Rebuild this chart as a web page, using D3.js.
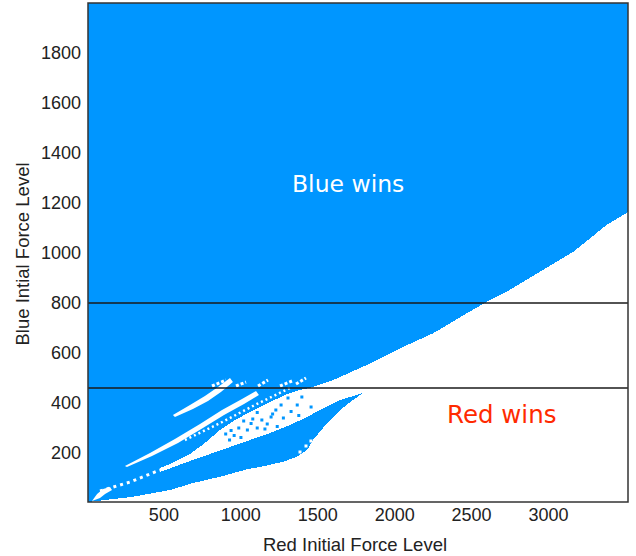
<!DOCTYPE html>
<html>
<head>
<meta charset="utf-8">
<script src="https://cdn.jsdelivr.net/npm/d3@7"></script>
<style>
  html, body { margin: 0; padding: 0; background: #fff; }
  svg { display: block; }
  .tick text { font-family: "Liberation Sans", Arial, sans-serif; font-size: 18px; fill: #222; }
</style>
</head>
<body>
<svg id="chart" width="636" height="556"></svg>
<script>
// Outcome map of a two-sided engagement: [red force, blue force] pairs.
const redTicks = [500, 1000, 1500, 2000, 2500, 3000];
const blueTicks = [200, 400, 600, 800, 1000, 1200, 1400, 1600, 1800];
const referenceLevels = [800, 460];

// Upper edge of the red-wins region, from the right edge down to the lower reference level
const redWinsEdge = [[3520,1164],[3381,1112],[3164,1005],[2948,925],[2732,845],[2623,812],
  [2472,759],[2254,679],[2038,619],[1822,552],[1604,492],[1473,464]];
// Upper edge of the red-wins wedge reaching into the low-force corner
const wedgeTop = [[1388,452],[1290,432],[1180,400],[1063,364],[966,332],[868,292],[770,240],
  [673,196],[543,156],[478,140]];
// Lower edge of that wedge (top of the blue tongue)
const wedgeBottom = [[478,124],[673,168],[803,196],[933,224],[1063,252],[1193,280],[1323,312],
  [1420,340],[1518,372],[1648,412],[1798,440]];
// Bottom edge of the blue region, from the tongue tip back to the origin
const lowerEdge = [[1733,412],[1648,372],[1564,320],[1473,252],[1434,212],[1369,185],[1278,165],
  [1128,144],[1044,135],[868,105],[693,80],[543,52],[303,25],[23,5]];

// Narrow red-wins streaks inside the blue region
const streakUpper = [[562,352],[673,392],[770,428],[855,464],[933,500],[952,484],[874,444],
  [790,408],[692,376],[575,344]];
const streakMiddle = [[250,148],[413,200],[575,256],[738,316],[881,372],[1011,416],[1102,448],
  [1121,432],[1024,396],[894,352],[757,300],[595,240],[426,188],[263,144]];
const streakTail = [[88,48],[283,84],[478,132]];
const meshLine = [[640,252],[870,320],[1095,392],[1323,460]];
const originPatch = [[36,8],[69,36],[108,56],[153,64],[166,52],[121,36],[88,20]];
const flecks = [[[816,468],[907,492]],[[972,468],[1037,484]],[[1115,468],[1180,492]],
  [[1258,468],[1336,488]],[[1362,476],[1427,500]]];
// Blue-wins cells scattered inside the wedge
const blueCells = [[905,276],[940,290],[990,300],[1022,328],[1081,336],[1110,362],[930,252],
  [1004,262],[1046,292],[1110,300],[1140,332],[1200,344],[1231,372],[1160,296],[1240,306],
  [1280,340],[1330,366],[1265,392],[1370,392],[1400,424],[1310,420],[1460,384],[1380,350],
  [960,270],[1070,318],[1175,316],[1210,356]];
// Red-wins cells along the tongue's lower edge
const redCells = [[1388,204],[1427,228],[1459,248]];

const svg = d3.select("#chart");
const x = d3.scaleLinear().domain([10, 3520]).range([88, 628]);
const y = d3.scaleLinear().domain([4, 2000]).range([502, 3]);
const [x0, x1] = x.domain();
const [y0, y1] = y.domain();

const BLUE = "#0096ff";
const line = d3.line().x(d => x(d[0])).y(d => y(d[1]));

const plot = svg.append("g");
plot.append("rect")
  .attr("x", x(x0)).attr("y", y(y1))
  .attr("width", x(x1) - x(x0)).attr("height", y(y0) - y(y1))
  .attr("fill", BLUE);

// Red-wins region: one simple polygon that leaves the blue tongue uncovered
const redRegion = [].concat(redWinsEdge, wedgeTop, wedgeBottom, lowerEdge,
  [[x0, y0], [x1, y0]]);
plot.append("path").attr("d", line(redRegion) + "Z").attr("fill", "#fff")
  .attr("shape-rendering", "crispEdges");

[streakUpper, streakMiddle, originPatch].forEach(poly => {
  plot.append("path").attr("d", line(poly) + "Z").attr("fill", "#fff");
});
plot.append("path").attr("d", line(streakTail)).attr("fill", "none")
  .attr("stroke", "#fff").attr("stroke-width", 3).attr("stroke-dasharray", "3,4");
plot.append("path").attr("d", line(meshLine)).attr("fill", "none")
  .attr("stroke", "#fff").attr("stroke-width", 2.5).attr("stroke-dasharray", "2,3");
flecks.forEach(seg => {
  plot.append("path").attr("d", line(seg)).attr("stroke", "#fff").attr("stroke-width", 3)
    .attr("stroke-dasharray", "3,2");
});
plot.selectAll("rect.bcell").data(blueCells).join("rect").attr("class", "bcell")
  .attr("x", d => x(d[0]) - 1.5).attr("y", d => y(d[1]) - 1.5)
  .attr("width", 3).attr("height", 3).attr("fill", BLUE);
plot.selectAll("rect.rcell").data(redCells).join("rect").attr("class", "rcell")
  .attr("x", d => x(d[0]) - 1.5).attr("y", d => y(d[1]) - 1.5)
  .attr("width", 3).attr("height", 3).attr("fill", "#fff");

// Reference force levels
plot.selectAll("line.ref").data(referenceLevels).join("line").attr("class", "ref")
  .attr("x1", x(x0)).attr("x2", x(x1))
  .attr("y1", d => y(d)).attr("y2", d => y(d))
  .attr("stroke", "#1a1a1a").attr("stroke-width", 1.6);

// Frame
plot.append("rect")
  .attr("x", x(x0)).attr("y", y(y1))
  .attr("width", x(x1) - x(x0)).attr("height", y(y0) - y(y1))
  .attr("fill", "none").attr("stroke", "#333").attr("stroke-width", 1.5);

// Axes
const xAxis = svg.append("g").attr("transform", `translate(0,${y(y0)})`)
  .call(d3.axisBottom(x).tickValues(redTicks).tickSize(0).tickPadding(6).tickFormat(d3.format("d")));
xAxis.select(".domain").remove();
const yAxis = svg.append("g").attr("transform", `translate(${x(x0)},0)`)
  .call(d3.axisLeft(y).tickValues(blueTicks).tickSize(0).tickPadding(7).tickFormat(d3.format("d")));
yAxis.select(".domain").remove();

svg.append("text").attr("x", 355).attr("y", 551).attr("text-anchor", "middle")
  .attr("font-family", "Liberation Sans, Arial, sans-serif").attr("font-size", 18.5).attr("fill", "#222")
  .text("Red Initial Force Level");
svg.append("text").attr("transform", "translate(29,254) rotate(-90)").attr("text-anchor", "middle")
  .attr("font-family", "Liberation Sans, Arial, sans-serif").attr("font-size", 18.5).attr("fill", "#222")
  .text("Blue Intial Force Level");

svg.append("text").attr("x", 292).attr("y", 192)
  .attr("font-family", "DejaVu Sans, sans-serif").attr("font-size", 23.5).attr("fill", "#fff")
  .text("Blue wins");
svg.append("text").attr("x", 447).attr("y", 423)
  .attr("font-family", "DejaVu Sans, sans-serif").attr("font-size", 24.5).attr("fill", "#ff2a00")
  .text("Red wins");
</script>
</body>
</html>
